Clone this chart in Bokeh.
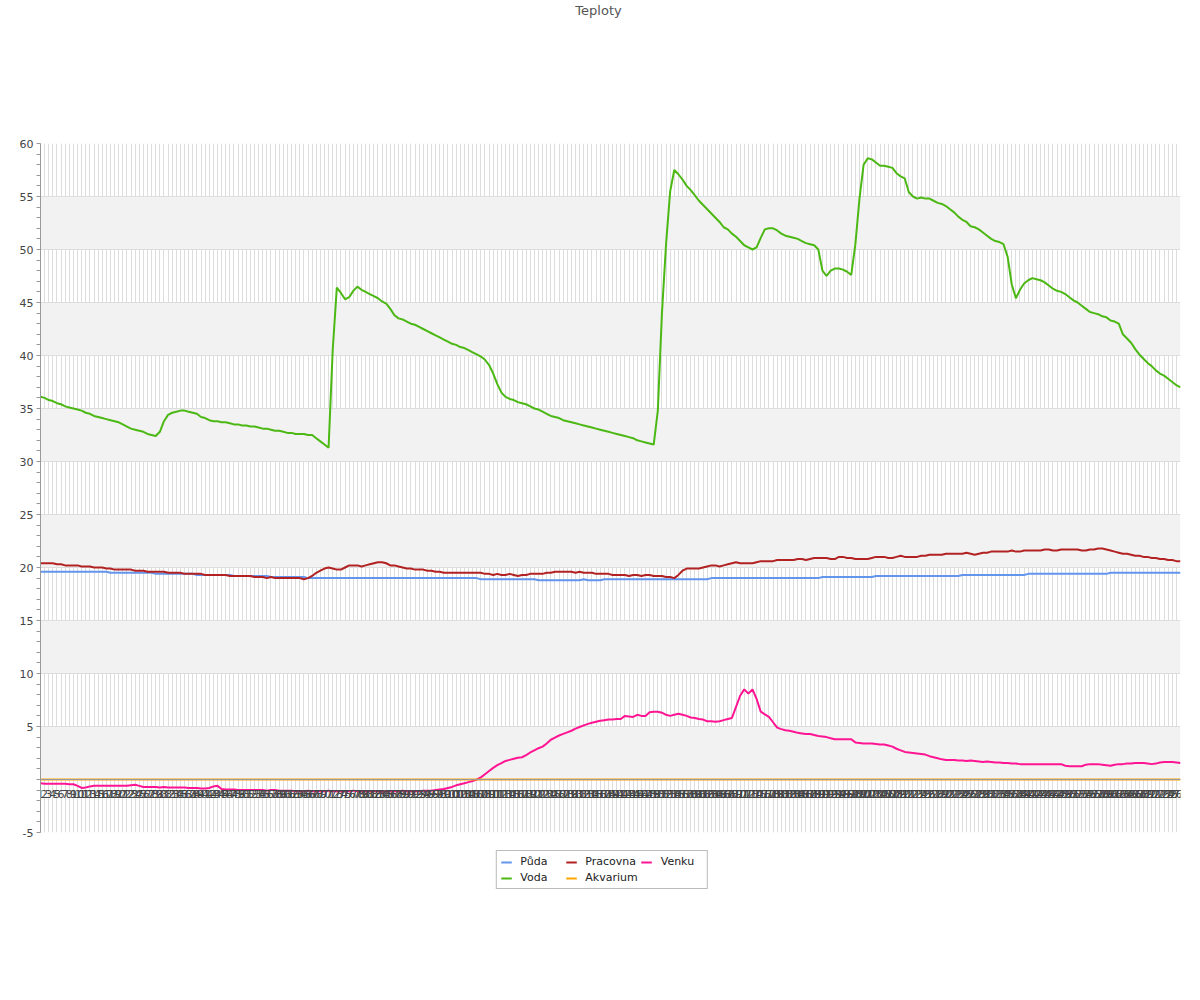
from bokeh.plotting import figure
from bokeh.layouts import column
from bokeh.models import Range1d, FixedTicker, Legend, LegendItem, ColumnDataSource
from bokeh.embed import file_html
from bokeh.resources import INLINE

title = "Teploty"
series_names = ["Půda", "Pracovna", "Venku", "Voda", "Akvarium"]
x_labels = [str(i) for i in range(1, 279)]
y_ticks = [-5, 0, 5, 10, 15, 20, 25, 30, 35, 40, 45, 50, 55, 60]

voda = [
    36.1, 36.0, 35.8, 35.7, 35.5, 35.4, 35.2, 35.1, 35.0, 34.9,
    34.8, 34.6, 34.5, 34.3, 34.2, 34.1, 34.0, 33.9, 33.8, 33.7,
    33.5, 33.3, 33.1, 33.0, 32.9, 32.8, 32.6, 32.5, 32.4, 32.8,
    33.8, 34.4, 34.6, 34.7, 34.8, 34.8, 34.7, 34.6, 34.5, 34.2,
    34.1, 33.9, 33.8, 33.8, 33.7, 33.7, 33.6, 33.5, 33.5, 33.4,
    33.4, 33.3, 33.3, 33.2, 33.1, 33.1, 33.0, 32.9, 32.9, 32.8,
    32.7, 32.7, 32.6, 32.6, 32.6, 32.5, 32.5, 32.2, 31.9, 31.6,
    31.3, 40.5, 46.4, 45.9, 45.3, 45.5, 46.1, 46.5, 46.2, 46.0,
    45.8, 45.6, 45.4, 45.1, 44.9, 44.4, 43.8, 43.5, 43.4, 43.2,
    43.0, 42.9, 42.7, 42.5, 42.3, 42.1, 41.9, 41.7, 41.5, 41.3,
    41.1, 41.0, 40.8, 40.7, 40.5, 40.3, 40.1, 39.9, 39.6, 39.1,
    38.3, 37.3, 36.5, 36.1, 35.9, 35.8, 35.6, 35.5, 35.4, 35.2,
    35.0, 34.9, 34.7, 34.5, 34.3, 34.2, 34.1, 33.9, 33.8, 33.7,
    33.6, 33.5, 33.4, 33.3, 33.2, 33.1, 33.0, 32.9, 32.8, 32.7,
    32.6, 32.5, 32.4, 32.3, 32.2, 32.0, 31.9, 31.8, 31.7, 31.6,
    34.8, 44.0, 50.5, 55.5, 57.5, 57.1, 56.6, 56.0, 55.6, 55.1,
    54.6, 54.2, 53.8, 53.4, 53.0, 52.6, 52.1, 51.9, 51.5, 51.2,
    50.8, 50.4, 50.2, 50.0, 50.2, 51.1, 51.9, 52.0, 52.0, 51.8,
    51.5, 51.3, 51.2, 51.1, 51.0, 50.8, 50.6, 50.5, 50.4, 50.0,
    48.0, 47.5, 48.0, 48.2, 48.2, 48.1, 47.9, 47.6, 50.5, 54.8,
    58.0, 58.6, 58.5, 58.2, 57.9, 57.9, 57.8, 57.7, 57.2, 56.9,
    56.7, 55.4, 55.0, 54.8, 54.9, 54.8, 54.8, 54.6, 54.4, 54.3,
    54.1, 53.8, 53.5, 53.1, 52.8, 52.6, 52.2, 52.1, 51.9, 51.6,
    51.3, 51.0, 50.8, 50.7, 50.5, 49.3, 46.7, 45.4, 46.2, 46.8,
    47.1, 47.3, 47.2, 47.1, 46.9, 46.6, 46.3, 46.1, 46.0, 45.8,
    45.5, 45.2, 45.0, 44.7, 44.4, 44.1, 44.0, 43.9, 43.7, 43.6,
    43.3, 43.2, 43.0, 42.0, 41.6, 41.2, 40.6, 40.1, 39.7, 39.3,
    39.0, 38.6, 38.3, 38.1, 37.8, 37.5, 37.2, 37.0,
]

pracovna = [
    20.4, 20.4, 20.4, 20.4, 20.3, 20.3, 20.2, 20.2, 20.2, 20.2,
    20.1, 20.1, 20.1, 20.0, 20.0, 20.0, 19.9, 19.9, 19.8, 19.8,
    19.8, 19.8, 19.8, 19.7, 19.7, 19.7, 19.6, 19.6, 19.6, 19.6,
    19.6, 19.5, 19.5, 19.5, 19.5, 19.4, 19.4, 19.4, 19.4, 19.4,
    19.3, 19.3, 19.3, 19.3, 19.3, 19.3, 19.2, 19.2, 19.2, 19.2,
    19.2, 19.2, 19.1, 19.1, 19.1, 19.0, 19.1, 19.0, 19.0, 19.0,
    19.0, 19.0, 19.0, 19.0, 18.9, 19.0, 19.2, 19.5, 19.7, 19.9,
    20.0, 19.9, 19.8, 19.8, 20.0, 20.2, 20.2, 20.2, 20.1, 20.2,
    20.3, 20.4, 20.5, 20.5, 20.4, 20.2, 20.2, 20.1, 20.0, 19.9,
    19.9, 19.8, 19.8, 19.8, 19.7, 19.7, 19.6, 19.6, 19.5, 19.5,
    19.5, 19.5, 19.5, 19.5, 19.5, 19.5, 19.5, 19.5, 19.4, 19.4,
    19.3, 19.4, 19.3, 19.3, 19.4, 19.3, 19.2, 19.3, 19.3, 19.4,
    19.4, 19.4, 19.4, 19.5, 19.5, 19.6, 19.6, 19.6, 19.6, 19.6,
    19.5, 19.6, 19.5, 19.5, 19.5, 19.4, 19.4, 19.4, 19.4, 19.3,
    19.3, 19.3, 19.3, 19.2, 19.3, 19.3, 19.2, 19.3, 19.3, 19.2,
    19.2, 19.2, 19.1, 19.1, 19.0, 19.3, 19.7, 19.9, 19.9, 19.9,
    19.9, 20.0, 20.1, 20.2, 20.2, 20.1, 20.2, 20.3, 20.4, 20.5,
    20.4, 20.4, 20.4, 20.4, 20.5, 20.6, 20.6, 20.6, 20.6, 20.7,
    20.7, 20.7, 20.7, 20.7, 20.8, 20.8, 20.7, 20.8, 20.9, 20.9,
    20.9, 20.9, 20.8, 20.8, 21.0, 21.0, 20.9, 20.9, 20.8, 20.8,
    20.8, 20.8, 20.9, 21.0, 21.0, 21.0, 20.9, 20.9, 21.0, 21.1,
    21.0, 21.0, 21.0, 21.0, 21.1, 21.1, 21.2, 21.2, 21.2, 21.2,
    21.3, 21.3, 21.3, 21.3, 21.3, 21.4, 21.3, 21.2, 21.3, 21.4,
    21.4, 21.5, 21.5, 21.5, 21.5, 21.5, 21.6, 21.5, 21.5, 21.6,
    21.6, 21.6, 21.6, 21.6, 21.7, 21.7, 21.6, 21.6, 21.7, 21.7,
    21.7, 21.7, 21.7, 21.6, 21.6, 21.7, 21.7, 21.8, 21.8, 21.7,
    21.6, 21.5, 21.4, 21.3, 21.3, 21.2, 21.1, 21.1, 21.0, 21.0,
    20.9, 20.9, 20.8, 20.8, 20.7, 20.7, 20.6, 20.6,
]

puda = [
    19.6, 19.6, 19.6, 19.6, 19.6, 19.6, 19.6, 19.6, 19.6, 19.6,
    19.6, 19.6, 19.6, 19.6, 19.6, 19.6, 19.6, 19.5, 19.5, 19.5,
    19.5, 19.5, 19.5, 19.5, 19.5, 19.5, 19.5, 19.5, 19.4, 19.4,
    19.4, 19.4, 19.4, 19.4, 19.4, 19.4, 19.4, 19.4, 19.3, 19.3,
    19.3, 19.3, 19.3, 19.3, 19.3, 19.3, 19.3, 19.2, 19.2, 19.2,
    19.2, 19.2, 19.2, 19.2, 19.2, 19.2, 19.1, 19.1, 19.1, 19.1,
    19.1, 19.1, 19.1, 19.1, 19.1, 19.0, 19.0, 19.0, 19.0, 19.0,
    19.0, 19.0, 19.0, 19.0, 19.0, 19.0, 19.0, 19.0, 19.0, 19.0,
    19.0, 19.0, 19.0, 19.0, 19.0, 19.0, 19.0, 19.0, 19.0, 19.0,
    19.0, 19.0, 19.0, 19.0, 19.0, 19.0, 19.0, 19.0, 19.0, 19.0,
    19.0, 19.0, 19.0, 19.0, 19.0, 19.0, 19.0, 18.9, 18.9, 18.9,
    18.9, 18.9, 18.9, 18.9, 18.9, 18.9, 18.9, 18.9, 18.9, 18.9,
    18.9, 18.8, 18.8, 18.8, 18.8, 18.8, 18.8, 18.8, 18.8, 18.8,
    18.8, 18.8, 18.9, 18.8, 18.8, 18.8, 18.8, 18.9, 18.9, 18.9,
    18.9, 18.9, 18.9, 18.9, 18.9, 18.9, 18.9, 18.9, 18.9, 18.9,
    18.9, 18.9, 18.9, 18.9, 18.9, 18.9, 18.9, 18.9, 18.9, 18.9,
    18.9, 18.9, 18.9, 19.0, 19.0, 19.0, 19.0, 19.0, 19.0, 19.0,
    19.0, 19.0, 19.0, 19.0, 19.0, 19.0, 19.0, 19.0, 19.0, 19.0,
    19.0, 19.0, 19.0, 19.0, 19.0, 19.0, 19.0, 19.0, 19.0, 19.0,
    19.1, 19.1, 19.1, 19.1, 19.1, 19.1, 19.1, 19.1, 19.1, 19.1,
    19.1, 19.1, 19.1, 19.2, 19.2, 19.2, 19.2, 19.2, 19.2, 19.2,
    19.2, 19.2, 19.2, 19.2, 19.2, 19.2, 19.2, 19.2, 19.2, 19.2,
    19.2, 19.2, 19.2, 19.2, 19.3, 19.3, 19.3, 19.3, 19.3, 19.3,
    19.3, 19.3, 19.3, 19.3, 19.3, 19.3, 19.3, 19.3, 19.3, 19.3,
    19.4, 19.4, 19.4, 19.4, 19.4, 19.4, 19.4, 19.4, 19.4, 19.4,
    19.4, 19.4, 19.4, 19.4, 19.4, 19.4, 19.4, 19.4, 19.4, 19.4,
    19.5, 19.5, 19.5, 19.5, 19.5, 19.5, 19.5, 19.5, 19.5, 19.5,
    19.5, 19.5, 19.5, 19.5, 19.5, 19.5, 19.5, 19.5,
]

venku = [
    -0.35, -0.4, -0.4, -0.4, -0.4, -0.4, -0.4, -0.45, -0.45, -0.6,
    -0.8, -0.75, -0.65, -0.6, -0.6, -0.6, -0.6, -0.6, -0.6, -0.6,
    -0.6, -0.6, -0.55, -0.5, -0.6, -0.7, -0.7, -0.7, -0.7, -0.75,
    -0.7, -0.75, -0.75, -0.75, -0.75, -0.75, -0.8, -0.8, -0.8, -0.85,
    -0.85, -0.8, -0.65, -0.6, -0.9, -0.95, -0.95, -0.95, -1.0, -1.0,
    -1.0, -1.0, -1.0, -1.0, -1.0, -1.05, -1.0, -1.0, -1.05, -1.05,
    -1.05, -1.05, -1.1, -1.1, -1.1, -1.05, -1.1, -1.1, -1.1, -1.1,
    -1.05, -1.1, -1.1, -1.1, -1.1, -1.1, -1.05, -1.1, -1.1, -1.1,
    -1.1, -1.1, -1.1, -1.15, -1.1, -1.1, -1.1, -1.1, -1.05, -1.1,
    -1.1, -1.1, -1.1, -1.05, -1.05, -1.05, -1.0, -0.95, -0.9, -0.8,
    -0.7, -0.55, -0.45, -0.35, -0.25, -0.15, 0.0, 0.2, 0.5, 0.8,
    1.1, 1.35, 1.55, 1.75, 1.85, 1.95, 2.05, 2.1, 2.3, 2.55,
    2.75, 2.95, 3.1, 3.4, 3.75, 3.95, 4.15, 4.3, 4.45, 4.6,
    4.8, 4.95, 5.1, 5.25, 5.35, 5.45, 5.55, 5.6, 5.65, 5.65,
    5.7, 5.7, 6.0, 5.95, 5.9, 6.1, 6.0, 6.0, 6.35, 6.4,
    6.4, 6.3, 6.1, 6.0, 6.1, 6.2, 6.1, 6.0, 5.85, 5.8,
    5.7, 5.65, 5.5, 5.5, 5.45, 5.5, 5.6, 5.7, 5.8, 6.85,
    7.9, 8.5, 8.1, 8.5, 7.6, 6.4, 6.15, 5.9, 5.4, 4.9,
    4.75, 4.65, 4.6, 4.5, 4.4, 4.35, 4.3, 4.3, 4.2, 4.1,
    4.05, 4.0, 3.9, 3.8, 3.8, 3.8, 3.8, 3.8, 3.5, 3.45,
    3.4, 3.4, 3.4, 3.35, 3.3, 3.3, 3.2, 3.1, 2.9, 2.75,
    2.6, 2.55, 2.5, 2.45, 2.4, 2.35, 2.2, 2.1, 2.0, 1.9,
    1.85, 1.85, 1.85, 1.8, 1.8, 1.75, 1.8, 1.75, 1.7, 1.65,
    1.7, 1.65, 1.6, 1.6, 1.55, 1.55, 1.5, 1.5, 1.45, 1.45,
    1.45, 1.45, 1.45, 1.45, 1.45, 1.45, 1.45, 1.45, 1.45, 1.3,
    1.25, 1.25, 1.25, 1.25, 1.4, 1.45, 1.45, 1.45, 1.4, 1.35,
    1.3, 1.4, 1.45, 1.45, 1.5, 1.5, 1.55, 1.55, 1.55, 1.5,
    1.45, 1.5, 1.6, 1.65, 1.65, 1.65, 1.6, 1.55,
]

akvarium = [0.0] * len(x_labels)

colors = {
    "Půda": "#6495ed",
    "Pracovna": "#b22222",
    "Venku": "#ff1493",
    "Voda": "#4cb814",
    "Akvarium": "#ffa500",
}
columns = [("Půda", "puda"), ("Pracovna", "pracovna"), ("Venku", "venku"),
           ("Voda", "voda"), ("Akvarium", "akvarium")]

xs = list(range(1, len(x_labels) + 1))
src = ColumnDataSource(dict(x=xs, puda=puda, pracovna=pracovna, venku=venku,
                            voda=voda, akvarium=akvarium))

# ---- title strip ----
tf = figure(width=1176, height=133, x_range=Range1d(0, 1), y_range=Range1d(0, 1),
            title=title, output_backend="svg", toolbar_location=None,
            x_axis_location=None, y_axis_location=None,
            min_border_left=0, min_border_right=0, min_border_top=0,
            min_border_bottom=0)
tf.outline_line_color = None
tf.xgrid.visible = False
tf.ygrid.visible = False
tf.title.align = "center"
tf.title.standoff = 0
tf.title.text_font = "DejaVu Sans"
tf.title.text_font_size = "13px"
tf.title.text_font_style = "normal"
tf.title.text_color = "#555555"

# ---- main chart ----
p = figure(width=1200, height=717, x_range=Range1d(1, len(x_labels)),
           y_range=Range1d(-5, 60), output_backend="svg", toolbar_location=None,
           min_border_left=40, min_border_right=20, min_border_top=10,
           min_border_bottom=18)
p.outline_line_color = None
p.background_fill_color = "white"

p.xaxis.ticker = FixedTicker(ticks=xs)
p.xaxis.major_label_overrides = {i: lab for i, lab in zip(xs, x_labels)}
p.xaxis.fixed_location = 0
p.xaxis.axis_line_color = "#999999"
p.xaxis.major_tick_line_color = None
p.xaxis.minor_tick_line_color = None
p.xaxis.major_label_text_font = "DejaVu Sans"
p.xaxis.major_label_text_font_size = "11px"
p.xaxis.major_label_text_color = "#444444"
p.xaxis.major_label_standoff = 4

p.yaxis.ticker = FixedTicker(ticks=y_ticks, minor_ticks=[v for v in range(-5, 61) if v % 5])
p.yaxis.major_label_overrides = {t: ("" if t == 0 else str(t)) for t in y_ticks}
p.yaxis.axis_line_color = "#999999"
p.yaxis.major_tick_line_color = "#999999"
p.yaxis.minor_tick_line_color = "#999999"
p.yaxis.major_tick_in = 0
p.yaxis.major_tick_out = 4
p.yaxis.minor_tick_in = 0
p.yaxis.minor_tick_out = 4
p.yaxis.major_label_text_font = "DejaVu Sans"
p.yaxis.major_label_text_font_size = "11px"
p.yaxis.major_label_text_color = "#444444"
p.yaxis.major_label_standoff = 3

p.xgrid.grid_line_color = "#dddddd"
p.ygrid.grid_line_color = "#dddddd"
p.ygrid.band_fill_color = "#f2f2f2"
p.ygrid.band_fill_alpha = 1.0

for name, col in columns:
    p.line("x", col, source=src, line_color=colors[name], line_width=2)

# ---- legend strip beneath the chart (same series, drawn outside its visible range) ----
lf = figure(width=1183, height=60, x_range=Range1d(0, 1), y_range=Range1d(0, 1),
            output_backend="svg", toolbar_location=None,
            x_axis_location=None, y_axis_location=None,
            min_border_left=0, min_border_right=0, min_border_top=0,
            min_border_bottom=0)
lf.outline_line_color = None
lf.xgrid.visible = False
lf.ygrid.visible = False
items = []
for name, col in columns:
    r = lf.line("x", col, source=src, line_color=colors[name], line_width=2)
    items.append(LegendItem(label=name, renderers=[r]))

legend = Legend(items=items, orientation="horizontal", ncols=3, location="top_center")
legend.border_line_color = "#777777"
legend.background_fill_color = "white"
legend.label_text_font = "DejaVu Sans"
legend.label_text_font_size = "11px"
legend.label_text_color = "#222222"
legend.glyph_width = 11
legend.glyph_height = 10
legend.label_height = 10
legend.label_width = 42
legend.label_standoff = 9
legend.spacing = 3
legend.padding = 4
legend.margin = 0
lf.add_layout(legend, "center")

layout = column(tf, p, lf, spacing=0)
open("out.html", "w").write(file_html(layout, INLINE))
